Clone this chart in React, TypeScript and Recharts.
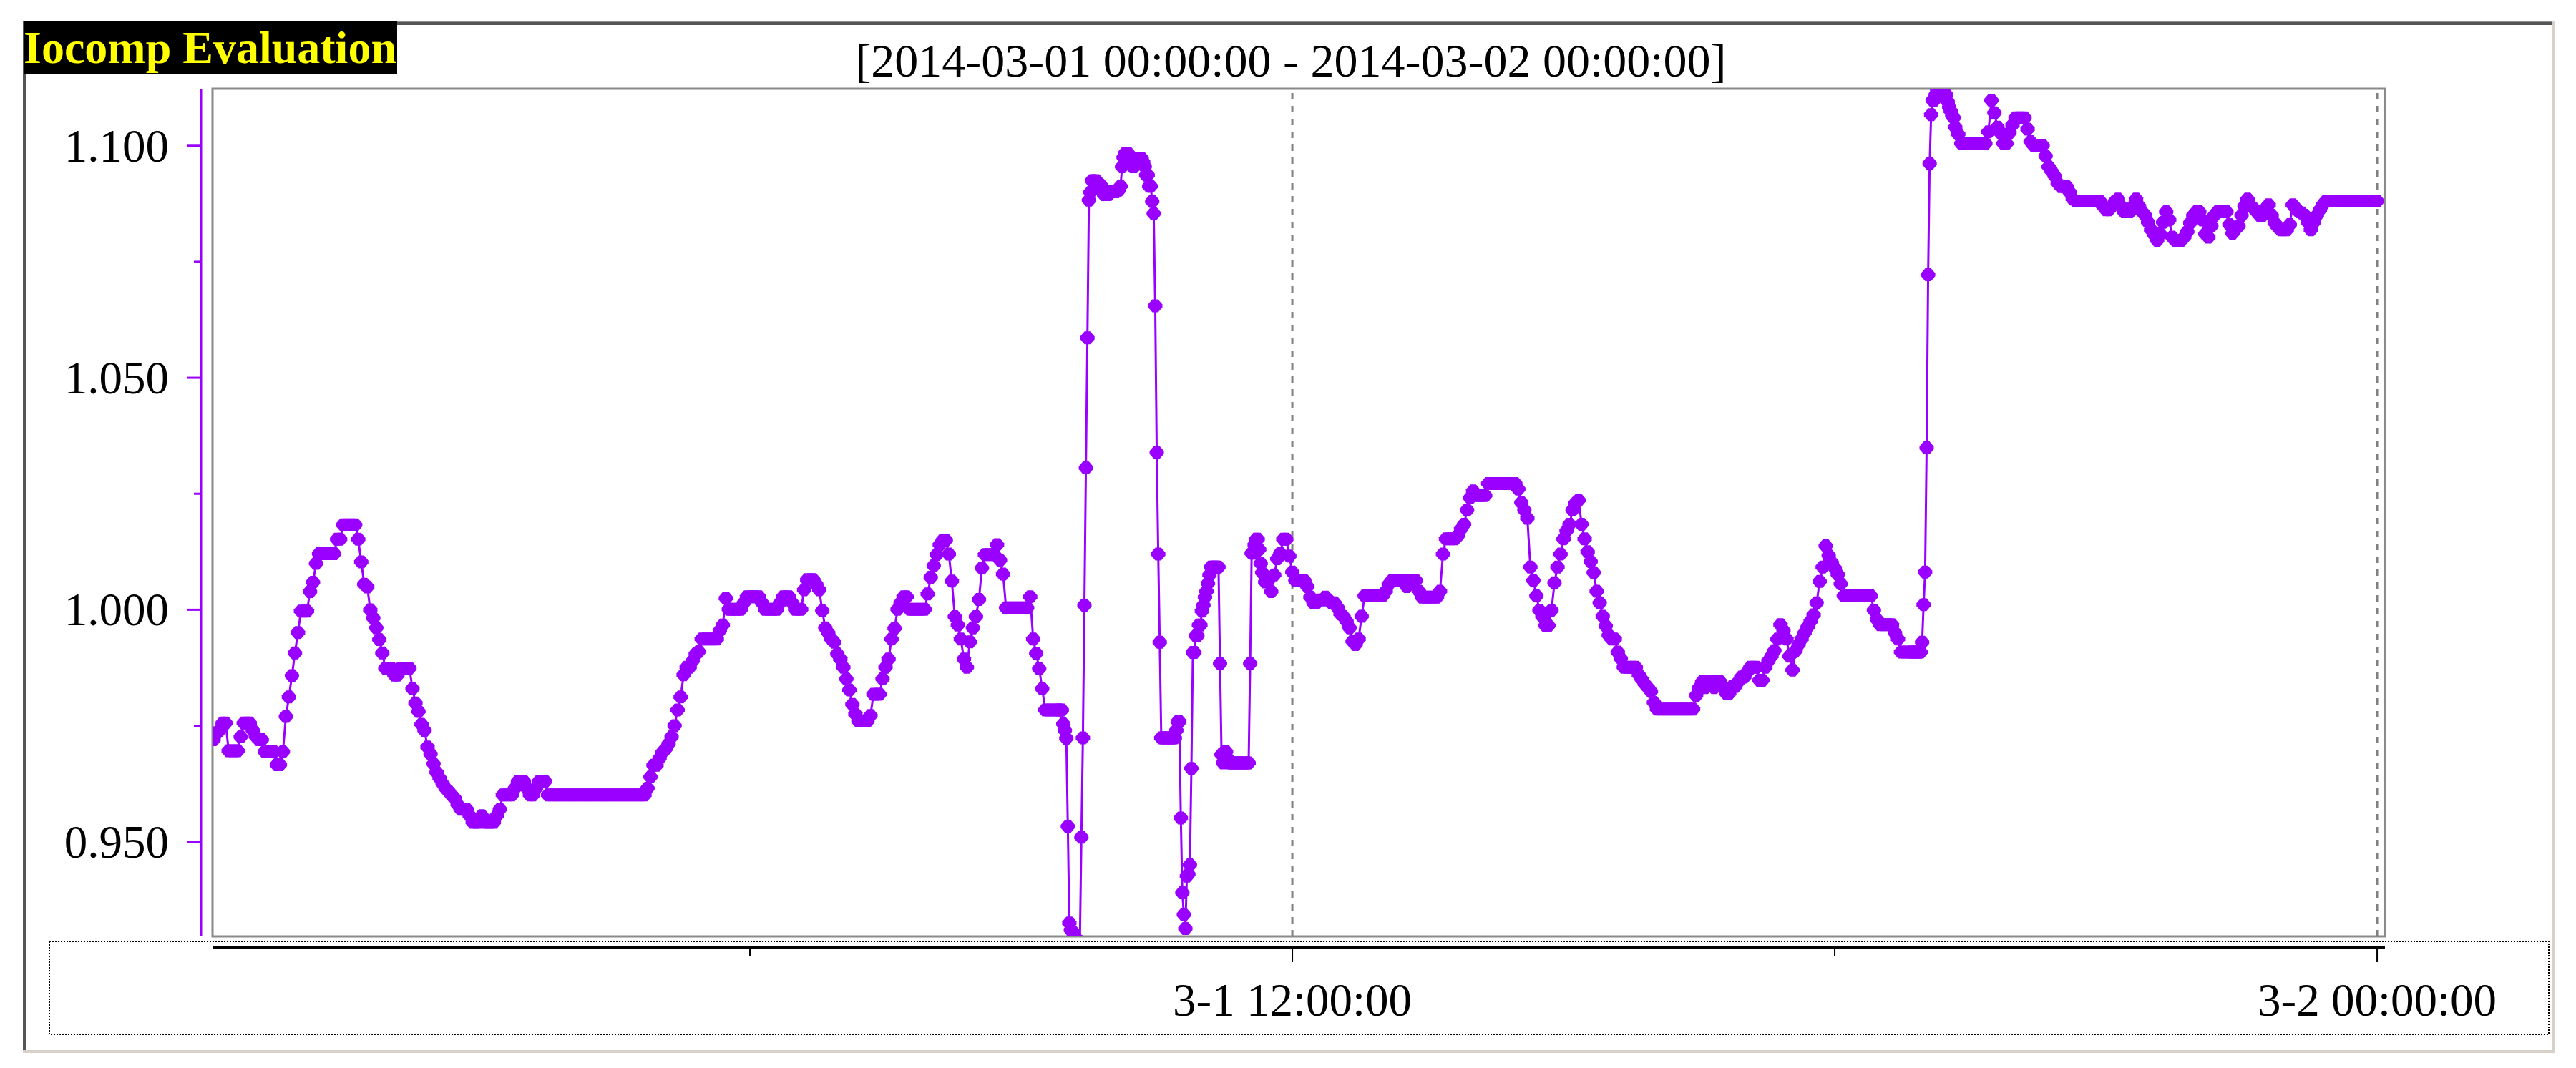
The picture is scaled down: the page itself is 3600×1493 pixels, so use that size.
import { Line, LineChart, ReferenceLine, XAxis, YAxis } from "recharts"

const badgeText = "Iocomp Evaluation"
const rangeTitle = "[2014-03-01 00:00:00 - 2014-03-02 00:00:00]"

// x is minutes after 2014-03-01 00:00:00
const xTicks = [360, 720, 1080, 1440]
const xTickLabels: Record<number, string> = { 720: "3-1 12:00:00", 1440: "3-2 00:00:00" }
const gridMinutes = [720, 1440]

const yTicks = [0.95, 0.975, 1.0, 1.025, 1.05, 1.075, 1.1]
const yLabelled = [0.95, 1.0, 1.05, 1.1]

// 00:00 - 09:24, every 2 min
const overnightValues = [
  0.972, 0.972, 0.972, 0.9735, 0.974, 0.9756, 0.9756, 0.9696, 0.9696, 0.9696,
  0.9696, 0.9726, 0.9756, 0.9756, 0.9756, 0.974, 0.9727, 0.972, 0.972, 0.9694,
  0.9694, 0.9694, 0.9694, 0.9666, 0.9666, 0.9694, 0.977, 0.9812, 0.9858, 0.9907,
  0.9951, 0.9997, 0.9997, 0.9997, 1.0039, 1.0059, 1.01, 1.0121, 1.0121, 1.0121,
  1.0121, 1.0121, 1.0121, 1.0152, 1.0152, 1.0183, 1.0183, 1.0183, 1.0183, 1.0183,
  1.0152, 1.0103, 1.0055, 1.0049, 1.0, 0.9982, 0.9961, 0.9936, 0.9907, 0.9874,
  0.9874, 0.9874, 0.9859, 0.9859, 0.9874, 0.9874, 0.9874, 0.9874, 0.983, 0.9799,
  0.9781, 0.9753, 0.974, 0.9704, 0.9689, 0.9668, 0.965, 0.9637, 0.9625, 0.9615,
  0.9609, 0.96, 0.9594, 0.958, 0.957, 0.957, 0.957, 0.9556, 0.9542, 0.9542,
  0.9542, 0.9556, 0.9542, 0.9542, 0.9542, 0.9542, 0.9556, 0.957, 0.9601, 0.9601,
  0.9601, 0.9601, 0.9615, 0.963, 0.963, 0.963, 0.9615, 0.9601, 0.9601, 0.9615,
  0.963, 0.963, 0.963, 0.9601, 0.9601, 0.9601, 0.9601, 0.9601, 0.9601, 0.9601,
  0.9601, 0.9601, 0.9601, 0.9601, 0.9601, 0.9601, 0.9601, 0.9601, 0.9601, 0.9601,
  0.9601, 0.9601, 0.9601, 0.9601, 0.9601, 0.9601, 0.9601, 0.9601, 0.9601, 0.9601,
  0.9601, 0.9601, 0.9601, 0.9601, 0.9601, 0.9601, 0.9615, 0.964, 0.9665, 0.9665,
  0.968, 0.9693, 0.97, 0.9711, 0.9726, 0.975, 0.9784, 0.9812, 0.986, 0.9876,
  0.9876, 0.989, 0.9905, 0.991, 0.9937, 0.9937, 0.9937, 0.9937, 0.9937, 0.9937,
  0.9955, 0.9967, 1.0025, 1.0001, 1.0001, 1.0001, 1.0001, 1.0001, 1.0015, 1.0028,
  1.0028, 1.0028, 1.0028, 1.0028, 1.0015, 1.0001, 1.0001, 1.0001, 1.0001, 1.0001,
  1.0015, 1.0028, 1.0028, 1.0028, 1.0015, 1.0001, 1.0001, 1.0001, 1.0043, 1.0065,
  1.0065, 1.0065, 1.0055, 1.0043, 0.9998, 0.9961, 0.995, 0.9937, 0.993, 0.9905,
  0.9894, 0.9876, 0.9851, 0.9827, 0.9796, 0.9775, 0.976, 0.976, 0.976, 0.976,
  0.9772, 0.9818, 0.9818, 0.9818, 0.9851, 0.9876, 0.9894, 0.9937, 0.996, 1.0001,
  1.0015, 1.0028, 1.0028, 1.0001, 1.0001, 1.0001, 1.0001, 1.0001, 1.0001, 1.0034,
  1.007, 1.0095, 1.0119, 1.014, 1.015, 1.015, 1.012, 1.0062, 0.9985, 0.9967,
  0.9937, 0.9894, 0.9876, 0.9931, 0.9961, 0.9985, 1.0022, 1.009, 1.0119, 1.0119,
  1.0119, 1.0119, 1.014, 1.0107, 1.0077, 1.0004, 1.0004, 1.0004, 1.0004, 1.0004,
  1.0004, 1.0004, 1.0004, 1.0028, 0.9937, 0.9906, 0.9873, 0.983, 0.9784, 0.9784,
  0.9784, 0.9784, 0.9784,
]

// 09:25 - 11:40, every minute
const spikeValues = [
  0.9784, 0.9784, 0.9784, 0.9754, 0.974, 0.9723, 0.9533, 0.9325, 0.931, 0.9307,
  0.93, 0.929, 0.929, 0.9285, 0.9285, 0.951, 0.9724, 1.001, 1.0306, 1.0586,
  1.0883, 1.09, 1.0925, 1.0925, 1.091, 1.0925, 1.0907, 1.0907, 1.0915, 1.0907,
  1.0895, 1.0901, 1.0901, 1.0895, 1.0901, 1.0901, 1.0901, 1.0901, 1.0901, 1.0905,
  1.0905, 1.0913, 1.0955, 1.0975, 1.0984, 1.0984, 1.0984, 1.0975, 1.0965, 1.0955,
  1.0955, 1.0965, 1.0973, 1.0973, 1.0973, 1.0973, 1.0965, 1.0955, 1.0937, 1.0937,
  1.0913, 1.0913, 1.088, 1.0854, 1.0655, 1.0339, 1.012, 0.993, 0.9724, 0.9724,
  0.9724, 0.9724, 0.9724, 0.9724, 0.9724, 0.9724, 0.9724, 0.9724, 0.974, 0.9759,
  0.9759, 0.9551, 0.939, 0.9343, 0.9313, 0.9426, 0.943, 0.945, 0.9658, 0.9908,
  0.9908, 0.9944, 0.9944, 0.9967, 0.9967, 0.9997, 1.001, 1.0027, 1.004, 1.0057,
  1.0075, 1.0092, 1.0092, 1.0092, 1.0092, 1.0092, 1.0092, 0.9884, 0.9688, 0.967,
  0.9694, 0.9694, 0.968, 0.967, 0.967, 0.967, 0.967, 0.967, 0.967, 0.967,
  0.967, 0.967, 0.967, 0.967, 0.967, 0.967, 0.967, 0.9884, 1.0122, 1.0122,
  1.014, 1.0152, 1.0152, 1.013, 1.01, 1.008,
]

// 11:42 - 18:50, every 2 min
const afternoonValues = [
  1.006, 1.0063, 1.0039, 1.0075, 1.011, 1.0122, 1.0152, 1.0152, 1.0116, 1.0081,
  1.0063, 1.0063, 1.0063, 1.0063, 1.005, 1.0027, 1.0015, 1.0015, 1.0021, 1.0021,
  1.0027, 1.0021, 1.0015, 1.0015, 1.0005, 0.9991, 0.9985, 0.9975, 0.9961, 0.9932,
  0.9925, 0.9937, 0.9986, 1.003, 1.003, 1.003, 1.003, 1.003, 1.003, 1.003,
  1.004, 1.0055, 1.0063, 1.0063, 1.0063, 1.0063, 1.0063, 1.005, 1.0063, 1.0063,
  1.0063, 1.004, 1.0027, 1.0027, 1.0027, 1.0027, 1.0027, 1.0027, 1.004, 1.012,
  1.0153, 1.0153, 1.0153, 1.0153, 1.016, 1.0174, 1.0184, 1.0215, 1.0241, 1.0256,
  1.0246, 1.0246, 1.0246, 1.0246, 1.0272, 1.0272, 1.0272, 1.0272, 1.0272, 1.0272,
  1.0272, 1.0272, 1.0272, 1.0272, 1.026, 1.0231, 1.0215, 1.0197, 1.0092, 1.0063,
  1.003, 0.9999, 0.9985, 0.9966, 0.9966, 0.9999, 1.0058, 1.0092, 1.012, 1.0153,
  1.017, 1.0184, 1.0215, 1.023, 1.0236, 1.0184, 1.0153, 1.0125, 1.0104, 1.008,
  1.004, 1.0015, 0.9986, 0.9965, 0.9945, 0.9937, 0.9937, 0.9909, 0.9895, 0.9876,
  0.9876, 0.9876, 0.9876, 0.9876, 0.986, 0.985, 0.984, 0.9832, 0.9824, 0.98,
  0.9786, 0.9786, 0.9786, 0.9786, 0.9786, 0.9786, 0.9786, 0.9786, 0.9786, 0.9786,
  0.9786, 0.9786, 0.9786, 0.9815, 0.9832, 0.9845, 0.9832, 0.9845, 0.9845, 0.9832,
  0.9845, 0.9845, 0.9832, 0.982, 0.982, 0.9835, 0.9835, 0.9845, 0.9855, 0.9855,
  0.9866, 0.9876, 0.9876, 0.9876, 0.9848, 0.9848, 0.9876, 0.989, 0.99, 0.9912,
  0.9937, 0.9968, 0.9955, 0.9937, 0.99, 0.987, 0.9912, 0.9925, 0.9937, 0.995,
  0.9963, 0.9975, 0.9989, 1.0015, 1.0061, 1.0092, 1.0138, 1.0117, 1.0102, 1.009,
  1.0076, 1.0056, 1.003, 1.003, 1.003, 1.003, 1.003, 1.003, 1.003, 1.003,
  1.003, 1.003, 0.9999, 0.9979, 0.9968, 0.9968, 0.9968, 0.9968, 0.9968, 0.995,
  0.9937, 0.9909, 0.9909, 0.9909, 0.9909,
]

// 18:51 - 19:20, every minute
const jumpValues = [
  0.9909, 0.9909, 0.9909, 0.9909, 0.9909, 0.9909, 0.9909, 0.993, 1.0011, 1.0081,
  1.0349, 1.0722, 1.0962, 1.1067, 1.1098, 1.1098, 1.111, 1.1118, 1.1118, 1.1118,
  1.1118, 1.1118, 1.1105, 1.111, 1.1095, 1.1083, 1.1075, 1.1065, 1.106, 1.104,
]

// 19:22 - 24:00, every 2 min
const eveningValues = [
  1.1025, 1.1005, 1.1005, 1.1005, 1.1005, 1.1005, 1.1005, 1.1005, 1.1005, 1.1005,
  1.103, 1.1098, 1.1071, 1.104, 1.1028, 1.1005, 1.1005, 1.1028, 1.1045, 1.106,
  1.106, 1.106, 1.106, 1.1036, 1.1009, 1.1001, 1.1001, 1.1001, 1.1001, 1.0978,
  1.0955, 1.0945, 1.0935, 1.092, 1.0912, 1.0912, 1.0912, 1.09, 1.0885, 1.0881,
  1.0881, 1.0881, 1.0881, 1.0881, 1.0881, 1.0881, 1.0881, 1.0881, 1.087, 1.0862,
  1.0862, 1.087, 1.088, 1.0885, 1.087, 1.0858, 1.0858, 1.0858, 1.087, 1.0885,
  1.087, 1.0858, 1.085, 1.0835, 1.0819, 1.0808, 1.0796, 1.081, 1.0835, 1.0858,
  1.084, 1.0803, 1.0796, 1.0796, 1.0796, 1.0803, 1.0815, 1.0834, 1.085, 1.0858,
  1.0858, 1.084, 1.081, 1.0803, 1.0827, 1.085, 1.0858, 1.0858, 1.0858, 1.0858,
  1.083, 1.0811, 1.082, 1.0827, 1.085, 1.087, 1.0885, 1.087, 1.0865, 1.0858,
  1.085, 1.085, 1.0865, 1.0873, 1.085, 1.0834, 1.0825, 1.0819, 1.0819, 1.0819,
  1.083, 1.0873, 1.0865, 1.0858, 1.0855, 1.085, 1.0835, 1.0819, 1.0835, 1.085,
  1.0862, 1.0873, 1.0881, 1.0881, 1.0881, 1.0881, 1.0881, 1.0881, 1.0881, 1.0881,
  1.0881, 1.0881, 1.0881, 1.0881, 1.0881, 1.0881, 1.0881, 1.0881, 1.0881, 1.0881,
]

const segments = [
  { start: 0, step: 2, values: overnightValues },
  { start: 565, step: 1, values: spikeValues },
  { start: 702, step: 2, values: afternoonValues },
  { start: 1131, step: 1, values: jumpValues },
  { start: 1162, step: 2, values: eveningValues },
]

const data = segments.flatMap(({ start, step, values }) =>
  values.map((value, i) => ({ minute: start + i * step, value }))
)

const PURPLE = "#9900ff"
const FONT = '"Liberation Serif", "Times New Roman", serif'

const WIDTH = 3600
const HEIGHT = 1493
const PLOT_LEFT = 297
const PLOT_TOP = 124
const PLOT_RIGHT = 3333
const PLOT_BOTTOM = 1309

const xDomain: [number, number] = [3.3, 1445.2]
const yDomain: [number, number] = [0.9296, 1.1123]

// the axes sit 16px away from the plot frame
const AXIS_GAP = 16
const xAxisLineValue =
  yDomain[0] - (AXIS_GAP * (yDomain[1] - yDomain[0])) / (PLOT_BOTTOM - PLOT_TOP)
const yAxisLineMinute =
  xDomain[0] - (AXIS_GAP * (xDomain[1] - xDomain[0])) / (PLOT_RIGHT - PLOT_LEFT)

function YTick(props: any) {
  const { x, y, payload } = props
  const major = yLabelled.includes(payload.value)
  return (
    <g>
      <line
        x1={x - AXIS_GAP - (major ? 20 : 10)}
        x2={x - AXIS_GAP}
        y1={y}
        y2={y}
        stroke={PURPLE}
        strokeWidth={3}
      />
      {major && (
        <text
          x={x - 61}
          y={y + 22}
          textAnchor="end"
          fill="#000"
          fontFamily={FONT}
          fontSize={65}
        >
          {payload.value.toFixed(3)}
        </text>
      )}
    </g>
  )
}

function XTick(props: any) {
  const { x, y, payload } = props
  const label = xTickLabels[payload.value]
  return (
    <g>
      <line
        x1={x}
        x2={x}
        y1={y + AXIS_GAP + 2}
        y2={y + (label ? 36 : 27)}
        stroke="#000"
        strokeWidth={2}
      />
      {label && (
        <text x={x} y={y + 111} textAnchor="middle" fill="#000" fontFamily={FONT} fontSize={65}>
          {label}
        </text>
      )}
    </g>
  )
}

// blunt diamond, like the original's pixel marker
function renderDiamond(props: any) {
  const { cx, cy, index } = props
  if (cx == null || cy == null) return <g key={index} />
  const pts = [
    [-4, -9], [4, -9], [10, -2], [10, 2], [4, 9], [-4, 9], [-10, 2], [-10, -2],
  ]
  return (
    <polygon
      key={index}
      points={pts.map(([dx, dy]) => `${cx + dx},${cy + dy}`).join(" ")}
      fill={PURPLE}
    />
  )
}

export default function App() {
  return (
    <div style={{ position: "relative", width: WIDTH, height: HEIGHT, background: "#fff" }}>
      <style>{"body{margin:0}"}</style>
      <svg
        width={WIDTH}
        height={HEIGHT}
        style={{ position: "absolute", left: 0, top: 0 }}
        fontFamily={FONT}
      >
        <rect width={WIDTH} height={HEIGHT} fill="#fff" />
        {/* sunken outer frame */}
        <rect x={32} y={29} width={3539} height={6} fill="#555" />
        <rect x={32} y={29} width={3539} height={2} fill="#8c8c8c" />
        <rect x={32} y={29} width={5} height={1443} fill="#555" />
        <rect x={3567} y={29} width={4} height={1443} fill="#d6d2ca" />
        <rect x={32} y={1468} width={3539} height={4} fill="#d6d2ca" />
        {/* plot frame */}
        <rect
          x={PLOT_LEFT}
          y={PLOT_TOP}
          width={PLOT_RIGHT - PLOT_LEFT}
          height={PLOT_BOTTOM - PLOT_TOP}
          fill="none"
          stroke="#8a8a8a"
          strokeWidth={3}
        />
        {/* dotted box around the time axis */}
        <rect
          x={69}
          y={1316}
          width={3493}
          height={130}
          fill="none"
          stroke="#000"
          strokeWidth={2}
          strokeDasharray="2 2"
        />
        <rect x={33} y={29} width={522} height={74} fill="#000" />
        <text x={33} y={88} fill="#ffff00" fontWeight="bold" fontSize={64}>
          {badgeText}
        </text>
        <text x={1804} y={107} textAnchor="middle" fill="#000" fontSize={66}>
          {rangeTitle}
        </text>
      </svg>
      <div style={{ position: "absolute", left: 0, top: 0 }}>
        <LineChart
          width={WIDTH}
          height={HEIGHT}
          data={data}
          margin={{ top: PLOT_TOP, right: WIDTH - PLOT_RIGHT, bottom: 0, left: 0 }}
        >
          <XAxis
            dataKey="minute"
            type="number"
            domain={xDomain}
            allowDataOverflow
            ticks={xTicks}
            interval={0}
            height={HEIGHT - PLOT_BOTTOM}
            axisLine={false}
            tickLine={false}
            tickSize={0}
            tickMargin={0}
            tick={<XTick />}
          />
          <YAxis
            type="number"
            domain={yDomain}
            allowDataOverflow
            ticks={yTicks}
            interval={0}
            width={PLOT_LEFT}
            axisLine={false}
            tickLine={false}
            tickSize={0}
            tickMargin={0}
            tick={<YTick />}
          />
          {gridMinutes.map((m) => (
            <ReferenceLine
              key={m}
              x={m}
              stroke="#808080"
              strokeWidth={3}
              strokeDasharray="9 9"
            />
          ))}
          <ReferenceLine y={xAxisLineValue} ifOverflow="visible" stroke="#000" strokeWidth={4} />
          <ReferenceLine x={yAxisLineMinute} ifOverflow="visible" stroke={PURPLE} strokeWidth={3} />
          <Line
            dataKey="value"
            type="linear"
            stroke={PURPLE}
            strokeWidth={3}
            dot={renderDiamond}
            activeDot={false}
            isAnimationActive={false}
          />
        </LineChart>
      </div>
    </div>
  )
}
